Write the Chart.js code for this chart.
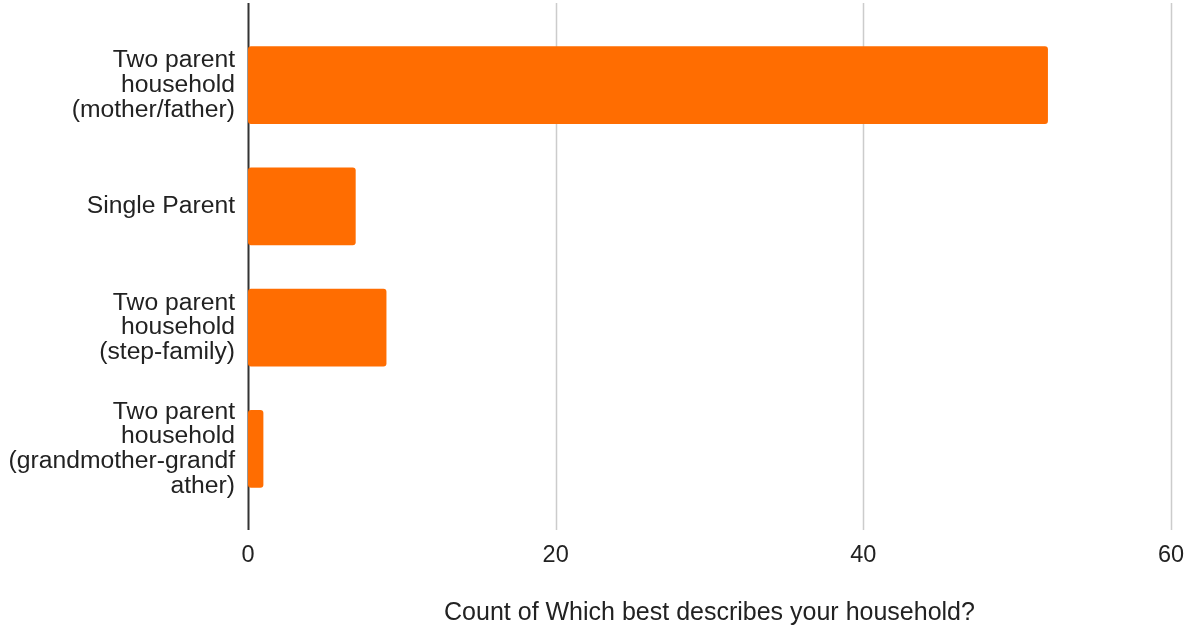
<!DOCTYPE html>
<html lang="en">
<head>
    <meta charset="UTF-8">
    <title>Household</title>
    <script src="https://cdn.jsdelivr.net/npm/chart.js"></script>
    <style>
        html, body { margin: 0; padding: 0; background: #fff; }
        canvas { display: block; }
    </style>
</head>
<body>
    <canvas id="barChart" width="1187" height="628"></canvas>
    <script>
        // Categories (multi-line labels as shown on the axis)
        const categories = [
            ['Two parent', 'household', '(mother/father)'],
            ['Single Parent'],
            ['Two parent', 'household', '(step-family)'],
            ['Two parent', 'household', '(grandmother-grandf', 'ather)']
        ];
        const counts = [52, 7, 9, 1];
        const xTicks = [0, 20, 40, 60];
        const axisTitle = 'Count of Which best describes your household?';

        // Grid lines and the zero axis run a bit past the bars, like the original
        const extendedGrid = {
            id: 'extendedGrid',
            beforeDatasetsDraw(chart) {
                const ctx = chart.ctx;
                const x = chart.scales.x;
                ctx.save();
                x.ticks.forEach(t => {
                    const px = Math.round(x.getPixelForValue(t.value)) + 0.5;
                    ctx.beginPath();
                    ctx.moveTo(px, 3);
                    ctx.lineTo(px, 530);
                    if (t.value === 0) {
                        ctx.strokeStyle = '#333';
                        ctx.lineWidth = 2;
                    } else {
                        ctx.strokeStyle = '#cccccc';
                        ctx.lineWidth = 1.5;
                    }
                    ctx.stroke();
                });
                ctx.restore();
            }
        };

        const whiteBg = {
            id: 'whiteBg',
            beforeDraw(chart) {
                const ctx = chart.ctx;
                ctx.save();
                ctx.fillStyle = '#fff';
                ctx.fillRect(0, 0, chart.width, chart.height);
                ctx.restore();
            }
        };

        new Chart(document.getElementById('barChart'), {
            type: 'bar',
            data: {
                labels: categories,
                datasets: [{
                    data: counts,
                    backgroundColor: '#ff6d01',
                    borderRadius: 3,
                    borderSkipped: false,
                    barPercentage: 0.643,
                    categoryPercentage: 1
                }]
            },
            options: {
                indexAxis: 'y',
                responsive: false,
                animation: false,
                layout: { padding: { top: 24.5, right: 16, bottom: 0, left: 0 } },
                plugins: {
                    legend: { display: false },
                    tooltip: { enabled: false }
                },
                scales: {
                    x: {
                        min: 0,
                        max: 60,
                        afterBuildTicks: s => { s.ticks = xTicks.map(v => ({ value: v })); },
                        afterFit: s => {
                            s.height = 118.5;
                            s.paddingLeft = 0;
                            s.paddingRight = 0;
                        },
                        grid: { display: false, drawTicks: false },
                        border: { display: false },
                        ticks: {
                            padding: 32,
                            color: '#222',
                            font: { family: 'Liberation Sans, Arial', size: 23.5 }
                        },
                        title: {
                            display: true,
                            text: axisTitle,
                            color: '#222',
                            font: { family: 'Liberation Sans, Arial', size: 25 },
                            padding: { top: 0, bottom: 0 }
                        }
                    },
                    y: {
                        afterFit: s => {
                            s.width = 248;
                            s.paddingTop = 0;
                            s.paddingBottom = 0;
                        },
                        grid: { display: false, drawTicks: false },
                        border: { display: false },
                        ticks: {
                            padding: 13,
                            color: '#222',
                            font: { family: 'Liberation Sans, Arial', size: 24.7, lineHeight: 1.0 }
                        }
                    }
                }
            },
            plugins: [whiteBg, extendedGrid]
        });
    </script>
</body>
</html>
